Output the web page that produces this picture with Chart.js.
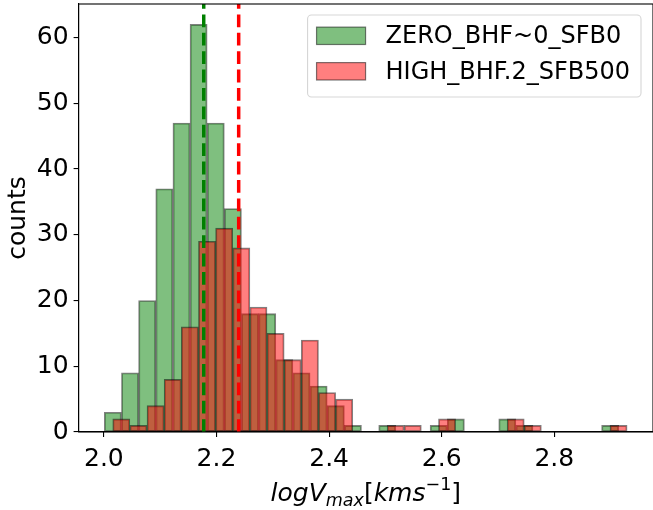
<!DOCTYPE html>
<html>
<head>
<meta charset="utf-8">
<script src="https://cdn.jsdelivr.net/npm/chart.js@4.4.1/dist/chart.umd.min.js"></script>
<style>
  html, body { margin: 0; padding: 0; background: #fff; }
  #wrap { width: 653px; height: 510px; }
</style>
</head>
<body>
<div id="wrap"><canvas id="hist" width="653" height="510"></canvas></div>
<script>
// histogram bin centres (logVmax) and counts
const zeroBins = [2.0159, 2.0464, 2.0768, 2.1073, 2.1378, 2.1682, 2.1987, 2.2291, 2.2596, 2.2901,
                  2.3205, 2.3510, 2.3814, 2.4119, 2.4423, 2.4728, 2.5033, 2.5337, 2.5642, 2.5946,
                  2.6251, 2.6555, 2.6860, 2.7165, 2.7469, 2.7774, 2.8078, 2.8383, 2.8687, 2.8992];
const zeroCounts = [3, 9, 20, 37, 47, 62, 47, 34, 18, 18,
                    11, 9, 7, 4, 1, 0, 1, 0, 0, 1,
                    2, 0, 0, 2, 1, 0, 0, 0, 0, 1];

const highBins = [2.0309, 2.0613, 2.0918, 2.1222, 2.1527, 2.1832, 2.2136, 2.2441, 2.2745, 2.3050,
                  2.3354, 2.3659, 2.3964, 2.4268, 2.4573, 2.4877, 2.5182, 2.5486, 2.5791, 2.6095,
                  2.6400, 2.6705, 2.7009, 2.7314, 2.7618, 2.7923, 2.8227, 2.8532, 2.8837, 2.9141];
const highCounts = [2, 1, 4, 8, 16, 29, 31, 28, 19, 15,
                    11, 14, 6, 5, 0, 0, 1, 1, 0, 2,
                    0, 0, 0, 2, 1, 0, 0, 0, 0, 1];

// dashed markers (mean of each sample)
const zeroMean = 2.1773;
const highMean = 2.2394;

const xTicks = [2.0, 2.2, 2.4, 2.6, 2.8];
const yTicks = [0, 10, 20, 30, 40, 50, 60];
const xMin = 1.95506, xMax = 2.97531;
const yMax = 65.1;

const FONT = "'DejaVu Sans', sans-serif";
Chart.defaults.font.family = FONT;
Chart.defaults.font.size = 25;
Chart.defaults.color = '#000';

const toPoints = (bins, counts) => bins.map((b, i) => ({ x: b, y: counts[i] }));

const barStyle = {
  borderColor: 'rgba(0,0,0,0.5)',
  borderWidth: 1.2,
  borderSkipped: false,
  barPercentage: 1,
  categoryPercentage: 1,
  grouped: false
};

// box around the plot area like matplotlib spines
const frame = {
  id: 'frame',
  afterDatasetsDraw(chart) {
    const { ctx, chartArea: a } = chart;
    ctx.save();
    ctx.strokeStyle = '#000';
    ctx.lineWidth = 1.1;
    ctx.strokeRect(a.left, a.top, a.right - a.left, a.bottom - a.top);
    ctx.restore();
  }
};

// legend inside the axes, top right
const boxLegend = {
  id: 'boxLegend',
  afterDraw(chart) {
    const { ctx, chartArea: a } = chart;
    const items = chart.data.datasets.filter(d => d.type !== 'line');
    ctx.save();
    ctx.font = '24px ' + FONT;
    const textW = Math.max(...items.map(d => ctx.measureText(d.label).width));
    const sw = 49, sh = 17.4, rowH = 35.5;
    const w = 9 + sw + 20 + textW + 11;
    const h = 82;
    const x = a.right - 12 - w;
    const y = a.top + 11;
    ctx.beginPath();
    ctx.roundRect(x, y, w, h, 4);
    ctx.fillStyle = 'rgba(255,255,255,0.8)';
    ctx.fill();
    ctx.strokeStyle = 'rgba(204,204,204,0.8)';
    ctx.lineWidth = 1.1;
    ctx.stroke();
    items.forEach((d, i) => {
      const cy = y + 20.8 + i * rowH;
      ctx.fillStyle = '#fff';
      ctx.fillRect(x + 9, cy - sh / 2, sw, sh);
      ctx.fillStyle = d.backgroundColor;
      ctx.fillRect(x + 9, cy - sh / 2, sw, sh);
      ctx.strokeStyle = d.borderColor;
      ctx.lineWidth = 1.2;
      ctx.strokeRect(x + 9, cy - sh / 2, sw, sh);
      ctx.fillStyle = '#000';
      ctx.textBaseline = 'middle';
      ctx.textAlign = 'left';
      ctx.fillText(d.label, x + 9 + sw + 20, cy + 1);
    });
    ctx.restore();
  }
};

// x axis title with subscript / superscript
const mathTitle = {
  id: 'mathTitle',
  afterDraw(chart) {
    const { ctx, chartArea: a } = chart;
    const big = 25, small = 17.5;
    const parts = [
      { t: 'logV', f: 'italic ' + big + 'px ' + FONT, dy: 0 },
      { t: 'max', f: 'italic ' + small + 'px ' + FONT, dy: 5 },
      { t: '[', f: big + 'px ' + FONT, dy: 0 },
      { t: 'kms', f: 'italic ' + big + 'px ' + FONT, dy: 0 },
      { t: '\u22121', f: small + 'px ' + FONT, dy: -11 },
      { t: ']', f: big + 'px ' + FONT, dy: 0 }
    ];
    ctx.save();
    let total = 0;
    parts.forEach(p => { ctx.font = p.f; p.w = ctx.measureText(p.t).width; total += p.w; });
    let x = (a.left + a.right) / 2 - total / 2;
    const base = 501;
    ctx.fillStyle = '#000';
    ctx.textBaseline = 'alphabetic';
    ctx.textAlign = 'left';
    parts.forEach(p => {
      ctx.font = p.f;
      ctx.fillText(p.t, x, base + p.dy);
      x += p.w;
    });
    ctx.restore();
  }
};

new Chart(document.getElementById('hist'), {
  type: 'bar',
  data: {
    datasets: [
      Object.assign({
        label: 'ZERO_BHF~0_SFB0',
        data: toPoints(zeroBins, zeroCounts),
        xAxisID: 'x',
        backgroundColor: 'rgba(0,128,0,0.5)',
        order: 2
      }, barStyle),
      Object.assign({
        label: 'HIGH_BHF.2_SFB500',
        data: toPoints(highBins, highCounts),
        xAxisID: 'x2',
        backgroundColor: 'rgba(255,0,0,0.5)',
        order: 1
      }, barStyle),
      {
        type: 'line',
        label: 'zero mean',
        data: [{ x: zeroMean, y: 0 }, { x: zeroMean, y: yMax }],
        xAxisID: 'x',
        borderColor: 'green',
        borderWidth: 3.5,
        borderDash: [12.8, 5.6],
        pointRadius: 0,
        order: 0
      },
      {
        type: 'line',
        label: 'high mean',
        data: [{ x: highMean, y: 0 }, { x: highMean, y: yMax }],
        xAxisID: 'x',
        borderColor: 'red',
        borderWidth: 3.5,
        borderDash: [12.8, 5.6],
        pointRadius: 0,
        order: 0
      }
    ]
  },
  options: {
    responsive: false,
    animation: false,
    layout: { padding: { top: 4, right: 0, left: 0, bottom: 0 } },
    plugins: {
      legend: { display: false },
      tooltip: { enabled: false }
    },
    scales: {
      x: {
        type: 'linear',
        min: xMin,
        max: xMax,
        offset: false,
        afterBuildTicks: s => { s.ticks = xTicks.map(v => ({ value: v })); },
        afterFit: s => { s.height = 78; s.paddingLeft = 0; s.paddingRight = 0; },
        ticks: { callback: v => v.toFixed(1), padding: 7, maxRotation: 0, autoSkip: false },
        grid: { offset: false, drawOnChartArea: false, tickLength: 5, color: '#000', lineWidth: 1.1 },
        border: { color: '#000', width: 1.1 }
      },
      x2: {
        type: 'linear',
        display: false,
        offset: false,
        grid: { offset: false },
        min: xMin,
        max: xMax
      },
      y: {
        type: 'linear',
        min: 0,
        max: yMax,
        afterBuildTicks: s => { s.ticks = yTicks.map(v => ({ value: v })); },
        afterFit: s => { s.width = 78.6; s.paddingTop = 0; s.paddingBottom = 0; },
        ticks: { padding: 5 },
        grid: { drawOnChartArea: false, tickLength: 5, color: '#000', lineWidth: 1.1 },
        border: { color: '#000', width: 1.1 },
        title: { display: true, text: 'counts', padding: { top: 3, bottom: 0 } }
      }
    }
  },
  plugins: [frame, boxLegend, mathTitle]
});
</script>
</body>
</html>
